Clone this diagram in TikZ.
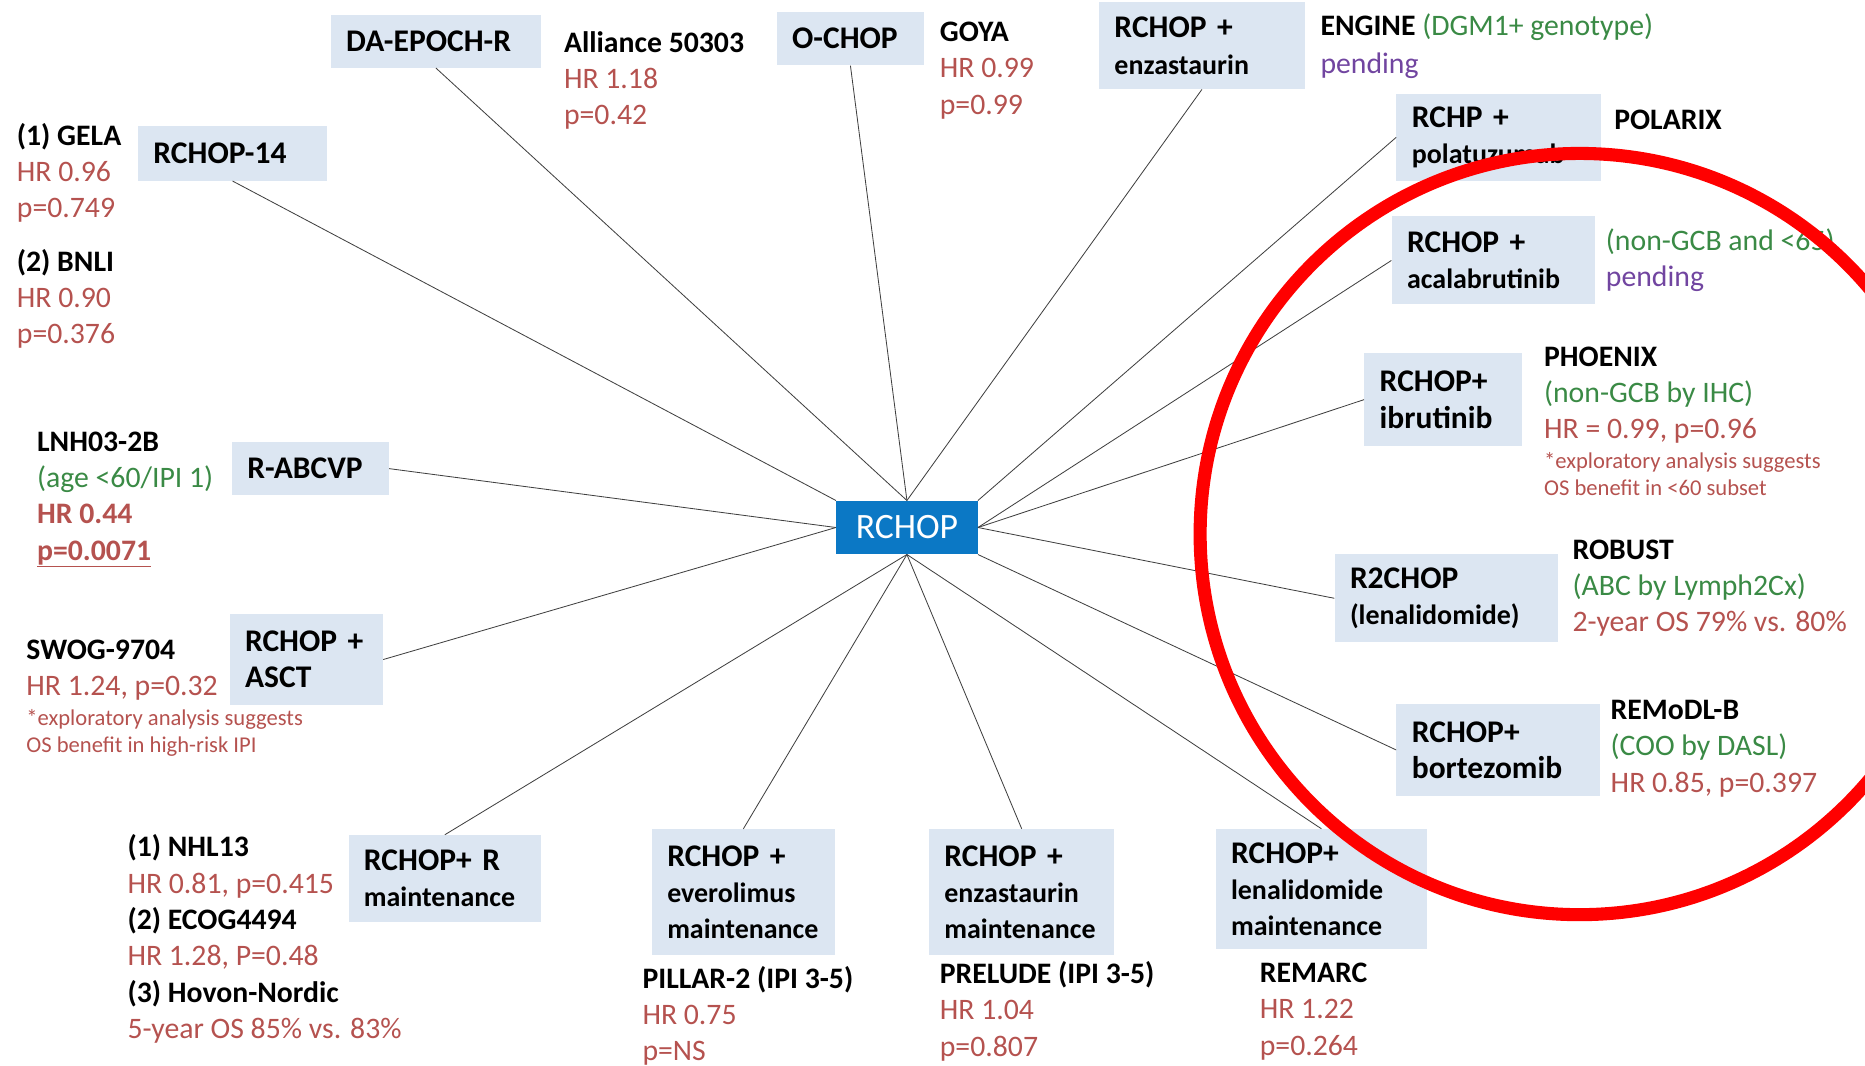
\documentclass[tikz,border=0pt]{standalone}
\usepackage{fontspec}
\setmainfont{Carlito}
\usepackage{tikz}

\definecolor{boxblue}{HTML}{DCE6F2}
\definecolor{hubblue}{HTML}{0B78C5}
\definecolor{hrred}{HTML}{B5524F}
\definecolor{subgreen}{HTML}{3A8A45}
\definecolor{pendpurple}{HTML}{7145A0}
\newcommand{\drug}[1]{{\fontsize{23.5}{30}\selectfont #1}}

\begin{document}
\begin{tikzpicture}[x=1pt,y=-1pt,
    hub/.style={fill=hubblue,text=white,minimum width=119pt,minimum height=45pt,inner sep=0pt,font=\fontsize{30}{34}\selectfont},
    arm/.style={fill=boxblue,inner xsep=13pt,inner ysep=0pt,align=left,font=\fontsize{26.5}{30.5}\selectfont\bfseries},
    spoke/.style={draw=black!75,line width=0.7pt},
    result/.style={anchor=base west,inner sep=0pt,align=left,font=\fontsize{25}{30.5}\selectfont},
    note/.style={anchor=base west,inner sep=0pt,align=left,text=hrred,font=\fontsize{19}{23}\selectfont}]
    \clip (0,0) rectangle (1568,896);

    % centre
    \node[hub] (hub) at (762.5,443.5) {RCHOP};

    % boxes round the centre
    \node[arm,text width=151pt,minimum height=44pt] (epoch) at (366.5,35) {DA-EPOCH-R};
    \node[arm,text width=98pt,minimum height=45pt] (ochop) at (715,32.5) {O-CHOP};
    \node[arm,text width=147pt,minimum height=73pt] (enzatop) at (1010.5,38.5) {RCHOP +\\\drug{enzastaurin}};
    \node[arm,text width=146pt,minimum height=73pt] (pola) at (1260,115.5) {RCHP +\\\drug{polatuzumab}};
    \node[arm,text width=145pt,minimum height=74pt] (acala) at (1255.5,219) {RCHOP +\\\drug{acalabrutinib}};
    \node[arm,text width=107pt,minimum height=78pt] (ibru) at (1213.5,336) {RCHOP+\\ibrutinib};
    \node[arm,text width=162pt,minimum height=74pt] (rtwo) at (1216,503) {R2CHOP\\\drug{(lenalidomide)}};
    \node[arm,text width=145pt,minimum height=77pt] (borte) at (1259.5,630.5) {RCHOP+\\bortezomib};
    \node[arm,text width=152pt,minimum height=101pt] (lenamaint) at (1111,747.5) {RCHOP+\\\drug{lenalidomide}\\\drug{maintenance}};
    \node[arm,text width=130pt,minimum height=106pt] (enzamaint) at (859,750) {RCHOP +\\\drug{enzastaurin}\\\drug{maintenance}};
    \node[arm,text width=128pt,minimum height=106pt] (everomaint) at (625,750) {RCHOP +\\\drug{everolimus}\\\drug{maintenance}};
    \node[arm,text width=136pt,minimum height=73pt] (rmaint) at (374,738.5) {RCHOP+ R\\\drug{maintenance}};
    \node[arm,text width=103pt,minimum height=77pt] (asct) at (257.5,554.5) {RCHOP +\\ASCT};
    \node[arm,text width=106pt,minimum height=44pt] (abcvp) at (261,394) {R-ABCVP};
    \node[arm,text width=133pt,minimum height=46pt] (fourteen) at (195.5,129) {RCHOP-14};

    % spokes
    \draw[spoke] (epoch.south) -- (hub.north);
    \draw[spoke] (ochop.south) -- (hub.north);
    \draw[spoke] (enzatop.south) -- (hub.north);
    \draw[spoke] (fourteen.south) -- (hub.north west);
    \draw[spoke] (abcvp.east) -- (hub.west);
    \draw[spoke] (asct.east) -- (hub.west);
    \draw[spoke] (rmaint.north) -- (hub.south);
    \draw[spoke] (everomaint.north) -- (hub.south);
    \draw[spoke] (enzamaint.north) -- (hub.south);
    \draw[spoke] (lenamaint.north) -- (hub.south);
    \draw[spoke] (pola.west) -- (hub.north east);
    \draw[spoke] (acala.west) -- (hub.east);
    \draw[spoke] (ibru.west) -- (hub.east);
    \draw[spoke] (rtwo.west) -- (hub.east);
    \draw[spoke] (borte.west) -- (hub.south east);

    % trial results (placed at the baseline of their last line)
    \node[result] (gela) at (14,183) {\textbf{(1) GELA}\\\textcolor{hrred}{HR 0.96}\\\textcolor{hrred}{p=0.749}};
    \node[result] (bnli) at (14,289) {\textbf{(2) BNLI}\\\textcolor{hrred}{HR 0.90}\\\textcolor{hrred}{p=0.376}};
    \node[result] (alliance) at (474,105) {\textbf{Alliance 50303}\\\textcolor{hrred}{HR 1.18}\\\textcolor{hrred}{p=0.42}};
    \node[result] (goya) at (790,96) {\textbf{GOYA}\\\textcolor{hrred}{HR 0.99}\\\textcolor{hrred}{p=0.99}};
    \node[result] (engine) at (1110,62) {\textbf{ENGINE} \textcolor{subgreen}{(DGM1+ genotype)}\\[1.5pt]\textcolor{pendpurple}{pending}};
    \node[result] (polarix) at (1357,109) {\textbf{POLARIX}};
    \node[result] (acalares) at (1350,241) {\textcolor{subgreen}{(non-GCB and <65)}\\\textcolor{pendpurple}{pending}};
    \node[result] (phoenix) at (1298,369) {\textbf{PHOENIX}\\\textcolor{subgreen}{(non-GCB by IHC)}\\\textcolor{hrred}{HR = 0.99, p=0.96}};
    \node[note] (phoenixnote) at (1298,417) {*exploratory analysis suggests\\OS benefit in <60 subset};
    \node[result] (robust) at (1322,531) {\textbf{ROBUST}\\\textcolor{subgreen}{(ABC by Lymph2Cx)}\\\textcolor{hrred}{2-year OS 79\% vs. 80\%}};
    \node[result] (remodl) at (1354,666) {\textbf{REMoDL-B}\\\textcolor{subgreen}{(COO by DASL)}\\\textcolor{hrred}{HR 0.85, p=0.397}};
    \node[result] (lnh) at (31,471) {\textbf{LNH03-2B}\\\textcolor{subgreen}{(age <60/IPI 1)}\\\textcolor{hrred}{\textbf{HR 0.44}}\\\textcolor{hrred}{\textbf{\underline{p=0.0071}}}};
    \node[result] (swog) at (22,585) {\textbf{SWOG-9704}\\\textcolor{hrred}{HR 1.24, p=0.32}};
    \node[note] (swognote) at (22,633) {*exploratory analysis suggests\\OS benefit in high-risk IPI};
    \node[result] (nhl) at (107,873) {\textbf{(1) NHL13}\\\textcolor{hrred}{HR 0.81, p=0.415}\\\textbf{(2) ECOG4494}\\\textcolor{hrred}{HR 1.28, P=0.48}\\\textbf{(3) Hovon-Nordic}\\\textcolor{hrred}{5-year OS 85\% vs. 83\%}};
    \node[result] (pillar) at (540,892) {\textbf{PILLAR-2 (IPI 3-5)}\\\textcolor{hrred}{HR 0.75}\\\textcolor{hrred}{p=NS}};
    \node[result] (prelude) at (790,888) {\textbf{PRELUDE (IPI 3-5)}\\\textcolor{hrred}{HR 1.04}\\\textcolor{hrred}{p=0.807}};
    \node[result] (remarc) at (1059,887) {\textbf{REMARC}\\\textcolor{hrred}{HR 1.22}\\\textcolor{hrred}{p=0.264}};

    % red ring
    \draw[red,line width=11pt] (1328,449) ellipse [x radius=319pt,y radius=320pt];
\end{tikzpicture}
\end{document}
